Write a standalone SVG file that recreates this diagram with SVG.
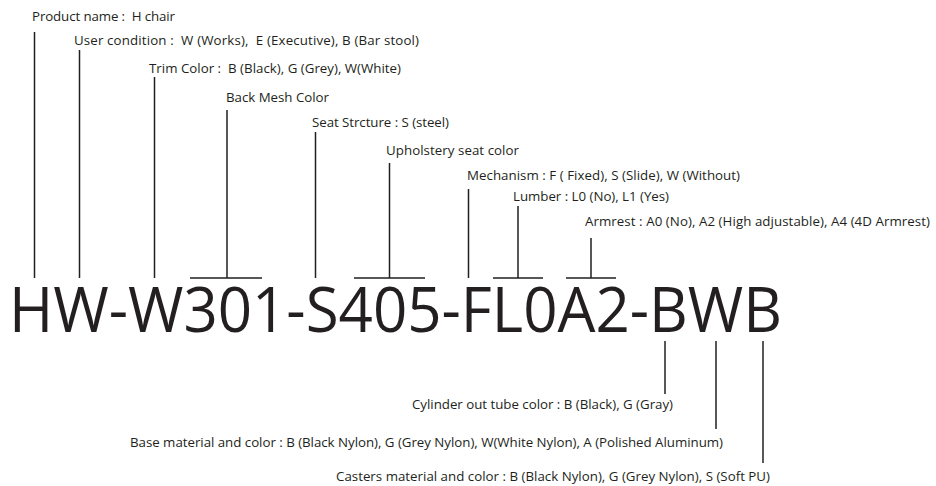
<svg xmlns="http://www.w3.org/2000/svg" width="936" height="486" viewBox="0 0 936 486">
<style>
.lbl{font-family:"Open Sans","Liberation Sans",sans-serif;font-size:13.3px;fill:#231f20;white-space:pre}
.code{font-family:"Open Sans","Liberation Sans",sans-serif;font-size:63px;fill:#231f20}
.ln{stroke:#231f20;stroke-width:1.5;fill:none}
</style>
<rect width="936" height="486" fill="#ffffff"/>
<g id="code"><text class="code" x="9" y="332" textLength="773" lengthAdjust="spacingAndGlyphs">HW-W301-S405-FL0A2-BWB</text></g>
<g id="n-product"><text class="lbl" x="32" y="21" textLength="143" xml:space="preserve">Product name :  H chair</text></g>
<g id="n-user"><text class="lbl" x="74" y="45" textLength="345" xml:space="preserve">User condition :  W (Works),  E (Executive), B (Bar stool)</text></g>
<g id="n-trim"><text class="lbl" x="149" y="73" textLength="252" xml:space="preserve">Trim Color :  B (Black), G (Grey), W(White)</text></g>
<g id="n-backmesh"><text class="lbl" x="226" y="102" textLength="103">Back Mesh Color</text></g>
<g id="n-seat"><text class="lbl" x="312" y="127" textLength="137">Seat Strcture : S (steel)</text></g>
<g id="n-uphol"><text class="lbl" x="386" y="155" textLength="133">Upholstery seat color</text></g>
<g id="n-mech"><text class="lbl" x="467" y="180" textLength="273">Mechanism : F ( Fixed), S (Slide), W (Without)</text></g>
<g id="n-lumber"><text class="lbl" x="513" y="201" textLength="156">Lumber : L0 (No), L1 (Yes)</text></g>
<g id="n-arm"><text class="lbl" x="585" y="226" textLength="345">Armrest : A0 (No), A2 (High adjustable), A4 (4D Armrest)</text></g>
<g id="n-cyl"><text class="lbl" x="412" y="409" textLength="261">Cylinder out tube color : B (Black), G (Gray)</text></g>
<g id="n-base"><text class="lbl" x="130" y="447" textLength="593">Base material and color : B (Black Nylon), G (Grey Nylon), W(White Nylon), A (Polished Aluminum)</text></g>
<g id="n-casters"><text class="lbl" x="336" y="481" textLength="434">Casters material and color : B (Black Nylon), G (Grey Nylon), S (Soft PU)</text></g>
<g id="connectors" class="ln">
<path d="M34.5 32V278"/>
<path d="M79.5 50V278"/>
<path d="M154.5 77V278"/>
<path d="M227 110V278M190 278H262"/>
<path d="M315.5 132V278"/>
<path d="M389.5 163V278M354 278H425"/>
<path d="M468.5 189V278"/>
<path d="M518 206V278M493 278H543"/>
<path d="M591 238V278M566 278H616"/>
<path d="M665 341V394"/>
<path d="M716 341V429"/>
<path d="M763 341V463"/>
</g>
</svg>
